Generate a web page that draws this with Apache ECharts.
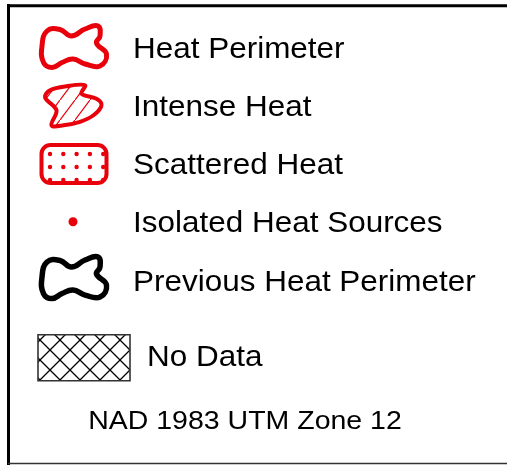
<!DOCTYPE html>
<html>
<head>
<meta charset="utf-8">
<script src="https://cdn.jsdelivr.net/npm/echarts@6/dist/echarts.min.js"></script>
<style>
  html, body { margin: 0; padding: 0; background: #fff; }
  #chart { width: 507px; height: 465px; }
</style>
</head>
<body>
<div id="chart"></div>
<script>
// legend entries (top to bottom)
const labels = ["Heat Perimeter", "Intense Heat", "Scattered Heat", "Isolated Heat Sources", "Previous Heat Perimeter", "No Data"];
const symbolKinds = ["perimeter", "intense", "scattered", "isolated", "previous", "nodata"];
const rowSlots = [1, 2, 3, 4, 5, 6.3];
const footerText = "NAD 1983 UTM Zone 12";
const footerSlot = 7.39;

const RED = "#e8000b";
const FONT = '"Liberation Sans", Arial, sans-serif';

// blob outline shared by both perimeter symbols (relative to symbol centre)
const blobPts = [[-31, -2], [-26, -17], [-13, -18.5], [-1.5, -12], [12, -19], [25, -22], [27, -12], [23.5, -5], [33.5, 6], [27, 18], [12, 16], [0, 11], [-11, 14.5], [-21, 19.5], [-29.5, 14.5]];
const intensePts = [[-23, -15], [-28, -8], [-16.5, 5], [-21.5, 20], [-9.5, 20], [7, 16.5], [20.5, 10], [28.5, 0], [23.5, -6.5], [8.5, -11.5], [12, -20], [-6.5, -19]];

function makePattern(w, h, draw) {
  const c = document.createElement("canvas");
  c.width = w;
  c.height = h;
  draw(c.getContext("2d"));
  return { image: c, repeat: "repeat" };
}
const hatch = makePattern(15, 20, (ctx) => {
  ctx.strokeStyle = RED;
  ctx.lineWidth = 1.2;
  ctx.beginPath();
  ctx.moveTo(0, 20);
  ctx.lineTo(15, 0);
  ctx.stroke();
});
const crossHatch = makePattern(20, 20, (ctx) => {
  ctx.strokeStyle = "#000";
  ctx.lineWidth = 1.3;
  ctx.beginPath();
  ctx.moveTo(0, 0);
  ctx.lineTo(20, 20);
  ctx.moveTo(0, 20);
  ctx.lineTo(20, 0);
  ctx.stroke();
});

function shift(pts, cx, cy) {
  return pts.map((p) => [p[0] + cx, p[1] + cy]);
}

function renderRow(params, api) {
  const i = api.value(2);
  const p = api.coord([api.value(0), api.value(1)]);
  const cx = p[0] + 73;
  const cy = p[1];
  const kind = symbolKinds[i];
  const children = [];
  if (kind === "perimeter" || kind === "previous") {
    const dy = kind === "previous" ? -2 : 0;
    children.push({
      type: "polygon",
      shape: { points: shift(blobPts, cx, cy + dy), smooth: 0.45 },
      style: { fill: "none", stroke: kind === "previous" ? "#000" : RED, lineWidth: kind === "previous" ? 5.5 : 5 },
    });
  } else if (kind === "intense") {
    children.push({
      type: "polygon",
      shape: { points: shift(intensePts, cx, cy - 1), smooth: 0.35 },
      style: { fill: hatch, stroke: RED, lineWidth: 4 },
    });
  } else if (kind === "scattered") {
    children.push({
      type: "rect",
      shape: { x: cx - 31.5, y: cy - 19.5, width: 65, height: 38, r: 9 },
      style: { fill: "#fff", stroke: RED, lineWidth: 4 },
    });
    for (let r = 0; r < 3; r++) {
      for (let c = 0; c < 5; c++) {
        children.push({
          type: "circle",
          shape: { cx: cx - 23 + c * 13.3, cy: cy - 10.5 + r * 13, r: 2.2 },
          style: { fill: RED },
        });
      }
    }
  } else if (kind === "isolated") {
    children.push({
      type: "circle",
      shape: { cx: cx, cy: cy - 1, r: 4.5 },
      style: { fill: RED },
    });
  } else if (kind === "nodata") {
    children.push({
      type: "rect",
      shape: { x: cx - 35, y: cy - 22, width: 92, height: 46 },
      style: { fill: crossHatch, stroke: "#333", lineWidth: 1.6 },
    });
  }
  children.push({
    type: "text",
    x: p[0] + (kind === "nodata" ? 147 : 133),
    y: cy + 1.5,
    scaleX: 1.085,
    style: { text: labels[i], fontSize: 29, fontFamily: FONT, fill: "#000", align: "left", verticalAlign: "middle" },
  });
  return { type: "group", children: children };
}

const chart = echarts.init(document.getElementById("chart"));
chart.setOption({
  backgroundColor: "#fff",
  animation: false,
  grid: { left: 0, right: 0, top: 18.9, bottom: 9.2 },
  xAxis: { type: "value", min: 0, max: 1, show: false },
  yAxis: { type: "value", inverse: true, min: 0.5, max: 8, show: false },
  graphic: [
    { type: "line", shape: { x1: 8.5, y1: 4, x2: 8.5, y2: 465 }, style: { stroke: "#000", lineWidth: 3 } },
    { type: "line", shape: { x1: 7, y1: 5.7, x2: 507, y2: 5.7 }, style: { stroke: "#000", lineWidth: 3 } },
    { type: "line", shape: { x1: 8, y1: 463.5, x2: 507, y2: 463.5 }, style: { stroke: "#333", lineWidth: 1.5 } },
  ],
  series: [
    {
      type: "custom",
      renderItem: renderRow,
      encode: { x: 0, y: 1 },
      data: labels.map((l, i) => [0, rowSlots[i], i]),
      silent: true,
    },
    {
      type: "custom",
      encode: { x: 0, y: 1 },
      data: [[0, footerSlot]],
      silent: true,
      renderItem: (params, api) => {
        const p = api.coord([api.value(0), api.value(1)]);
        return {
          type: "text",
          x: p[0] + 245,
          y: p[1] + 1.5,
          scaleX: 1.14,
          style: { text: footerText, fontSize: 25, fontFamily: FONT, fill: "#000", align: "center", verticalAlign: "middle" },
        };
      },
    },
  ],
});
</script>
</body>
</html>
